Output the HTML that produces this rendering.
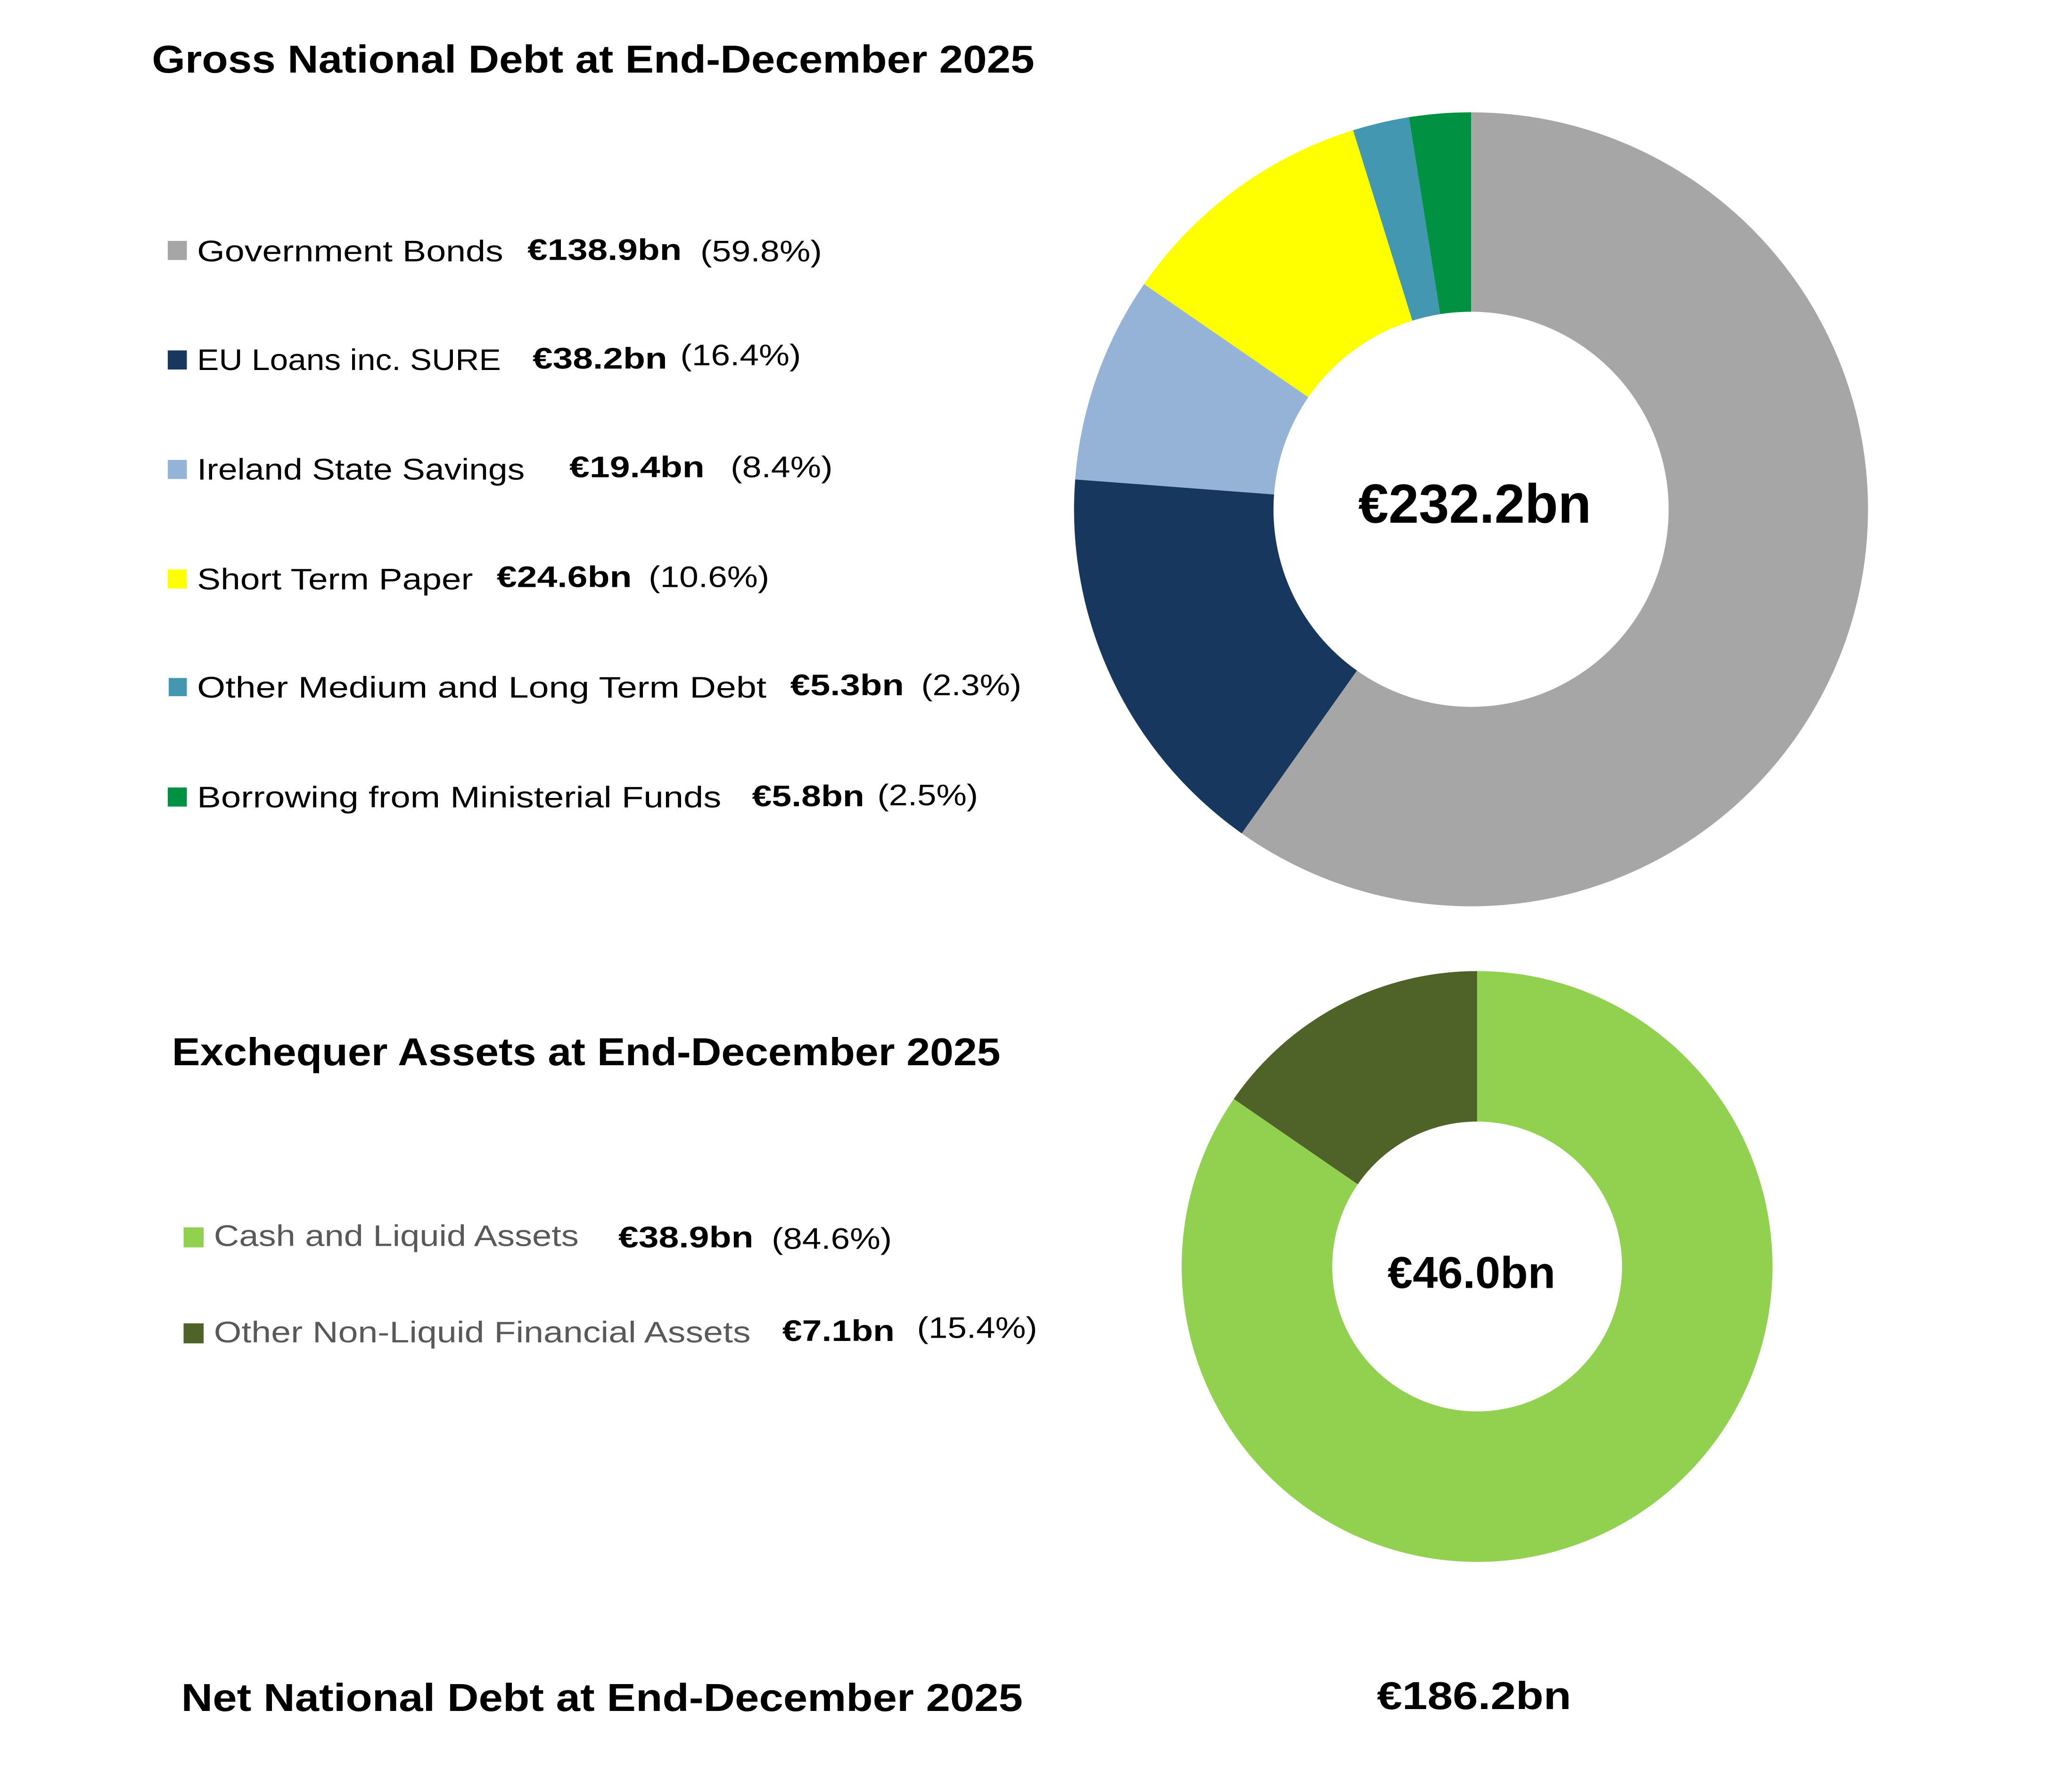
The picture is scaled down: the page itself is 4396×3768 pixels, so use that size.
<!DOCTYPE html>
<html><head><meta charset="utf-8"><style>
html,body{margin:0;padding:0;background:#fff;}
svg{display:block;}
text{font-family:"Liberation Sans",sans-serif;}
.t{font-weight:bold;font-size:84px;fill:#000;}
.l{font-size:64px;fill:#000;}
.b{font-size:64px;font-weight:bold;fill:#000;}
.g{font-size:64px;fill:#595959;}
</style></head><body>
<svg width="4396" height="3768" viewBox="0 0 4396 3768" xmlns="http://www.w3.org/2000/svg">
<rect width="4396" height="3768" fill="#fff"/>
<g transform="scale(0.9886)">
<text class="t" x="326" y="156" textLength="1894" lengthAdjust="spacingAndGlyphs">Gross National Debt at End-December 2025</text>

<!-- Donut 1 -->
<path fill="#A6A6A6" d="M3157,241 A852,852 0 1 1 2664.8,1788.5 L2912.1,1439.1 A424,424 0 1 0 3157,669 Z"/>
<path fill="#17375E" d="M2664.8,1788.5 A852,852 0 0 1 2307.4,1028.8 L2734.2,1061.1 A424,424 0 0 0 2912.1,1439.1 Z"/>
<path fill="#95B3D7" d="M2307.4,1028.8 A852,852 0 0 1 2455.3,609.7 L2807.8,852.5 A424,424 0 0 0 2734.2,1061.1 Z"/>
<path fill="#FFFF00" d="M2455.3,609.7 A852,852 0 0 1 2903.9,279.5 L3031.0,688.2 A424,424 0 0 0 2807.8,852.5 Z"/>
<path fill="#4397B0" d="M2903.9,279.5 A852,852 0 0 1 3023.7,251.5 L3090.7,674.2 A424,424 0 0 0 3031.0,688.2 Z"/>
<path fill="#009242" d="M3023.7,251.5 A852,852 0 0 1 3157,241 L3157,669 A424,424 0 0 0 3090.7,674.2 Z"/>
<text class="t" x="2915" y="1122" style="font-size:118px" textLength="500" lengthAdjust="spacingAndGlyphs">€232.2bn</text>

<!-- Legend 1 -->
<rect x="360" y="517" width="41" height="41" fill="#A6A6A6"/>
<text class="l" x="423" y="561" textLength="657" lengthAdjust="spacingAndGlyphs">Government Bonds</text>
<text class="b" x="1132" y="558" textLength="331" lengthAdjust="spacingAndGlyphs">€138.9bn</text>
<text class="l" x="1503" y="561" textLength="261" lengthAdjust="spacingAndGlyphs">(59.8%)</text>

<rect x="360" y="752" width="41" height="41" fill="#17375E"/>
<text class="l" x="423" y="794" textLength="652" lengthAdjust="spacingAndGlyphs">EU Loans inc. SURE</text>
<text class="b" x="1143" y="791" textLength="289" lengthAdjust="spacingAndGlyphs">€38.2bn</text>
<text class="l" x="1460" y="784" textLength="259" lengthAdjust="spacingAndGlyphs">(16.4%)</text>

<rect x="360" y="987" width="41" height="41" fill="#95B3D7"/>
<text class="l" x="423" y="1029" textLength="703" lengthAdjust="spacingAndGlyphs">Ireland State Savings</text>
<text class="b" x="1222" y="1024" textLength="290" lengthAdjust="spacingAndGlyphs">€19.4bn</text>
<text class="l" x="1568" y="1024" textLength="219" lengthAdjust="spacingAndGlyphs">(8.4%)</text>

<rect x="360" y="1222" width="41" height="41" fill="#FFFF00"/>
<text class="l" x="423" y="1265" textLength="592" lengthAdjust="spacingAndGlyphs">Short Term Paper</text>
<text class="b" x="1066" y="1260" textLength="290" lengthAdjust="spacingAndGlyphs">€24.6bn</text>
<text class="l" x="1392" y="1260" textLength="259" lengthAdjust="spacingAndGlyphs">(10.6%)</text>

<rect x="362" y="1455" width="39" height="39" fill="#4397B0"/>
<text class="l" x="423" y="1497" textLength="1222" lengthAdjust="spacingAndGlyphs">Other Medium and Long Term Debt</text>
<text class="b" x="1696" y="1492" textLength="244" lengthAdjust="spacingAndGlyphs">€5.3bn</text>
<text class="l" x="1977" y="1492" textLength="215" lengthAdjust="spacingAndGlyphs">(2.3%)</text>

<rect x="360" y="1690" width="41" height="41" fill="#009242"/>
<text class="l" x="423" y="1733" textLength="1125" lengthAdjust="spacingAndGlyphs">Borrowing from Ministerial Funds</text>
<text class="b" x="1614" y="1730" textLength="241" lengthAdjust="spacingAndGlyphs">€5.8bn</text>
<text class="l" x="1883" y="1728" textLength="216" lengthAdjust="spacingAndGlyphs">(2.5%)</text>

<!-- Exchequer -->
<text class="t" x="369" y="2286" textLength="1778" lengthAdjust="spacingAndGlyphs">Exchequer Assets at End-December 2025</text>
<path fill="#92D050" d="M3170,2084 A634,634 0 1 1 2647.8,2358.4 L2913.9,2541.6 A311,311 0 1 0 3170,2407 Z"/>
<path fill="#4F6228" d="M2647.8,2358.4 A634,634 0 0 1 3170,2084 L3170,2407 A311,311 0 0 0 2913.9,2541.6 Z"/>
<text class="t" x="2978" y="2764" style="font-size:96px" textLength="360" lengthAdjust="spacingAndGlyphs">€46.0bn</text>

<rect x="394" y="2634" width="43" height="43" fill="#92D050"/>
<text class="g" x="459" y="2674" textLength="783" lengthAdjust="spacingAndGlyphs">Cash and Liquid Assets</text>
<text class="b" x="1327" y="2677" textLength="290" lengthAdjust="spacingAndGlyphs">€38.9bn</text>
<text class="l" x="1656" y="2680" textLength="258" lengthAdjust="spacingAndGlyphs">(84.6%)</text>

<rect x="394" y="2840" width="43" height="43" fill="#4F6228"/>
<text class="g" x="459" y="2881" textLength="1152" lengthAdjust="spacingAndGlyphs">Other Non-Liquid Financial Assets</text>
<text class="b" x="1679" y="2878" textLength="241" lengthAdjust="spacingAndGlyphs">€7.1bn</text>
<text class="l" x="1968" y="2871" textLength="258" lengthAdjust="spacingAndGlyphs">(15.4%)</text>

<!-- Net -->
<text class="t" x="389" y="3672" textLength="1806" lengthAdjust="spacingAndGlyphs">Net National Debt at End-December 2025</text>
<text class="t" x="2955" y="3668" textLength="417" lengthAdjust="spacingAndGlyphs">€186.2bn</text>
</g>
</svg>
</body></html>
